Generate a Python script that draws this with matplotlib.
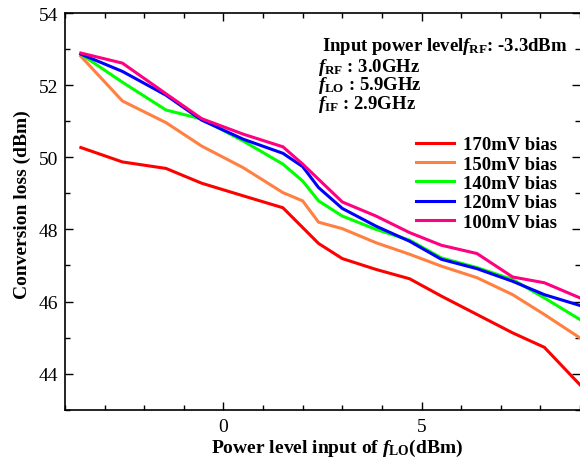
import matplotlib
matplotlib.use("Agg")
import matplotlib.pyplot as plt
from matplotlib.ticker import MultipleLocator

plt.rcParams['font.family'] = ['Liberation Serif', 'DejaVu Serif']
plt.rcParams['mathtext.fontset'] = 'custom'
plt.rcParams['mathtext.rm'] = 'Liberation Serif:bold'
plt.rcParams['mathtext.it'] = 'Liberation Serif:italic:bold'
plt.rcParams['mathtext.bf'] = 'Liberation Serif:bold'

# LO power levels (dBm)
lo_power = [-3.6, -2.55, -1.45, -0.55, 0.5, 1.5, 2.0, 2.4, 3.0, 3.85, 4.7, 5.5, 6.4, 7.3, 8.1, 9.0]

bias_170 = [50.27, 49.87, 49.69, 49.28, 48.93, 48.60, 48.05, 47.61, 47.19, 46.89, 46.63, 46.15, 45.64, 45.13, 44.73, 43.69]
bias_150 = [52.80, 51.56, 50.96, 50.31, 49.71, 49.02, 48.79, 48.20, 48.02, 47.63, 47.31, 46.98, 46.66, 46.19, 45.64, 44.99]
bias_140 = [52.86, 52.08, 51.31, 51.06, 50.45, 49.81, 49.34, 48.79, 48.37, 48.00, 47.70, 47.21, 46.94, 46.61, 46.10, 45.50]
bias_120 = [52.86, 52.38, 51.72, 51.03, 50.50, 50.11, 49.74, 49.16, 48.58, 48.09, 47.67, 47.17, 46.91, 46.56, 46.19, 45.89]
bias_100 = [52.89, 52.61, 51.76, 51.07, 50.64, 50.29, 49.81, 49.39, 48.76, 48.37, 47.91, 47.56, 47.33, 46.68, 46.52, 46.10]

labels = ['170mV bias', '150mV bias', '140mV bias', '120mV bias', '100mV bias']
colors = ['#ff0000', '#ff8040', '#00ff00', '#0000ff', '#ff0080']
series = [bias_170, bias_150, bias_140, bias_120, bias_100]

W, H = 580, 464
fig = plt.figure(figsize=(W / 100, H / 100), dpi=100)
ax = fig.add_axes([65 / W, 1 - 410.7 / H, (W - 65) / W, (410.7 - 14) / H])

for ys, c, lab in zip(series, colors, labels):
    ax.plot(lo_power, ys, color=c, lw=2.2, label=lab, solid_joinstyle='miter')

ax.set_xlim(-4, 9)
ax.set_ylim(43, 54)
ax.xaxis.set_major_locator(MultipleLocator(5))
ax.xaxis.set_minor_locator(MultipleLocator(1))
ax.yaxis.set_major_locator(MultipleLocator(2))
ax.yaxis.set_minor_locator(MultipleLocator(1))
ax.tick_params(which='both', direction='in', top=True, right=True, labelsize=14, width=1)
ax.tick_params(which='major', length=6)
ax.tick_params(which='minor', length=3.5)
ax.tick_params(axis='x', pad=6)
ax.tick_params(axis='y', pad=5)
ax.spines['right'].set_visible(False)
for s in ['left', 'bottom', 'top']:
    ax.spines[s].set_linewidth(1.2)

ax.set_xlabel(r'Power level input of $\mathit{f}_{\mathrm{LO}}$(dBm)', fontsize=14, fontweight='bold')
ax.set_ylabel('Conversion loss (dBm)', fontsize=14, fontweight='bold')
ax.xaxis.set_label_coords((337 - 65) / (W - 65), -(448 - 410.7) / (410.7 - 14))
ax.xaxis.label.set_va('center')
ax.yaxis.set_label_coords(-(65 - 22) / (W - 65), (410.7 - 205) / (410.7 - 14))
ax.yaxis.label.set_va('center')

leg = ax.legend(loc='upper left', bbox_to_anchor=(416 / W, 1 - 137 / H), bbox_transform=fig.transFigure,
                frameon=False, prop={'size': 13.5, 'weight': 'bold'}, handlelength=2.0,
                handletextpad=0.5, labelspacing=0.12, borderaxespad=0, borderpad=0)

fs = 13.5
fig.text(322 / W, 1 - 47 / H, r'Input power level$\mathit{f}_{\mathrm{RF}}$: -3.3dBm', fontsize=fs, fontweight='bold', va='center')
fig.text(318 / W, 1 - 67 / H, r'$\mathit{f}_{\mathrm{RF}}$ : 3.0GHz', fontsize=fs, fontweight='bold', va='center')
fig.text(318 / W, 1 - 86 / H, r'$\mathit{f}_{\mathrm{LO}}$ : 5.9GHz', fontsize=fs, fontweight='bold', va='center')
fig.text(318 / W, 1 - 105 / H, r'$\mathit{f}_{\mathrm{IF}}$ : 2.9GHz', fontsize=fs, fontweight='bold', va='center')

fig.savefig('out.png', dpi=100)
